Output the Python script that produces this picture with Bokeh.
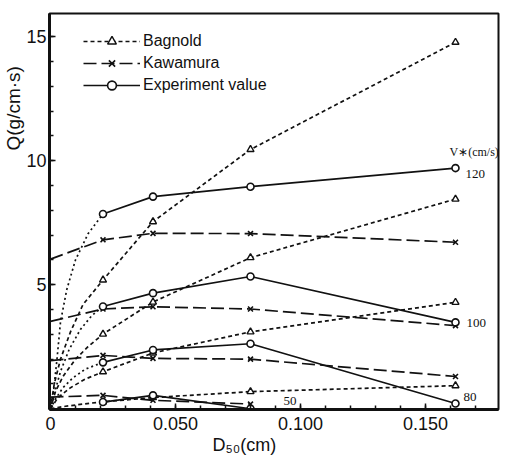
import math
from bokeh.plotting import figure
from bokeh.models import (Range1d, FixedTicker, CustomJSTickFormatter, Label,
                          Legend, LegendItem, Title)
from bokeh.embed import file_html
from bokeh.resources import INLINE

# ---------------- data ----------------
d50 = [0.021, 0.041, 0.080, 0.162]          # D50 (cm)

bagnold_120 = [5.19, 7.54, 10.45, 14.77]
bagnold_100 = [3.01, 4.30, 6.09, 8.45]
bagnold_80 = [1.49, 2.25, 3.10, 4.29]
bagnold_50 = [0.28, 0.45, 0.69, 0.93]

# Bagnold curves rising from the origin to the first point
bag120_lead_x = [0.0, 0.0015, 0.004, 0.008, 0.013]
bag120_lead_y = [0.0, 1.0, 2.0, 3.1, 4.2]
bag100_lead_x = [0.0, 0.002, 0.005, 0.010, 0.015]
bag100_lead_y = [0.0, 0.7, 1.3, 2.0, 2.5]
bag80_lead_x = [0.0, 0.003, 0.008, 0.014]
bag80_lead_y = [0.0, 0.45, 0.85, 1.2]
bag50_lead_x = [0.0, 0.006, 0.013]
bag50_lead_y = [0.0, 0.1, 0.19]

kawamura_d50 = [0.0, 0.021, 0.041, 0.080, 0.162]
kawamura_120 = [6.03, 6.81, 7.07, 7.06, 6.71]
kawamura_100 = [3.52, 4.02, 4.11, 4.02, 3.35]
kawamura_80 = [1.94, 2.15, 2.03, 2.00, 1.30]
kawamura_50_d50 = [0.0, 0.021, 0.041, 0.080]
kawamura_50 = [0.47, 0.54, 0.34, 0.19]

experiment_120 = [7.85, 8.55, 8.95, 9.70]
experiment_100 = [4.12, 4.66, 5.33, 3.48]
experiment_80 = [1.87, 2.37, 2.62, 0.21]
experiment_50_d50 = [0.021, 0.041, 0.080]
experiment_50 = [0.27, 0.54, 0.0]

# dotted curves from the origin to the first experiment point
exp120_lead_x = [0.0, 0.001, 0.0025, 0.004, 0.0065, 0.010, 0.015]
exp120_lead_y = [0.0, 0.5, 1.9, 3.5, 4.8, 6.0, 7.05]
exp100_lead_x = [0.0, 0.0015, 0.004, 0.0075, 0.012, 0.0165]
exp100_lead_y = [0.0, 0.6, 1.5, 2.4, 3.2, 3.75]
exp80_lead_x = [0.0, 0.002, 0.005, 0.009, 0.014]
exp80_lead_y = [0.0, 0.4, 0.85, 1.25, 1.6]

x_major = [0.0, 0.05, 0.10, 0.15]
x_minor = [i / 100 for i in range(18)]
y_major = [5, 10, 15]
y_minor = list(range(16))

series_labels = ["120", "100", "80", "50"]

# ---------------- figure ----------------
INK = "#111111"
SANS = "Liberation Sans"
SERIF = "Liberation Serif"

p = figure(width=510, height=455, output_backend="svg", toolbar_location=None,
           x_range=Range1d(-0.0004, 0.1792), y_range=Range1d(-0.03, 15.93),
           min_border_left=49, min_border_right=12, min_border_top=13,
           min_border_bottom=46)
p.grid.visible = False
p.background_fill_color = "white"
p.border_fill_color = "white"
p.outline_line_color = INK
p.outline_line_width = 2

for ax in (p.xaxis[0], p.yaxis[0]):
    ax.axis_line_width = 3
    ax.axis_line_color = INK
    ax.major_tick_in = 6
    ax.major_tick_out = 0
    ax.minor_tick_in = 4
    ax.minor_tick_out = 0
    ax.major_tick_line_color = INK
    ax.minor_tick_line_color = INK
    ax.major_tick_line_width = 1.5
    ax.minor_tick_line_width = 1.5
    ax.major_label_text_font = SANS
    ax.major_label_text_font_size = "18px"
    ax.major_label_text_color = INK

p.xaxis.ticker = FixedTicker(ticks=x_major, minor_ticks=x_minor)
p.yaxis.ticker = FixedTicker(ticks=y_major, minor_ticks=y_minor)
p.xaxis.formatter = CustomJSTickFormatter(
    code="return tick == 0 ? '0' : tick.toFixed(3);")
p.xaxis.major_label_standoff = 7
p.yaxis.major_label_standoff = 3

BAG_DASH = "4 3"
KAW_DASH = "13 5"
DOT = "2 3"
LW = 1.7


def tri(xs, ys):
    return p.scatter(xs, ys, marker="triangle", size=7, fill_color="white",
                     line_color=INK, line_width=1.4)


def cross(xs, ys):
    return p.scatter(xs, ys, marker="x", size=7, line_color=INK, line_width=1.6)


def circ(xs, ys):
    return p.scatter(xs, ys, marker="circle", size=7, fill_color="white",
                     line_color=INK, line_width=1.6)


# Bagnold
bag_sets = [(bag120_lead_x, bag120_lead_y, bagnold_120),
            (bag100_lead_x, bag100_lead_y, bagnold_100),
            (bag80_lead_x, bag80_lead_y, bagnold_80),
            (bag50_lead_x, bag50_lead_y, bagnold_50)]
bag_renderers = []
for lx, ly, vals in bag_sets:
    lr = p.line(lx + d50, ly + vals, line_color=INK, line_width=LW,
                line_dash=BAG_DASH)
    sr = tri(d50, vals)
    bag_renderers.append((lr, sr))

# Kawamura
kaw_sets = [(kawamura_d50, kawamura_120), (kawamura_d50, kawamura_100),
            (kawamura_d50, kawamura_80), (kawamura_50_d50, kawamura_50)]
kaw_renderers = []
for xs, vals in kaw_sets:
    lr = p.line(xs, vals, line_color=INK, line_width=LW, line_dash=KAW_DASH)
    sr = cross(xs[1:], vals[1:])
    kaw_renderers.append((lr, sr))

# Experiment
exp_leads = [(exp120_lead_x, exp120_lead_y, experiment_120),
             (exp100_lead_x, exp100_lead_y, experiment_100),
             (exp80_lead_x, exp80_lead_y, experiment_80)]
for lx, ly, vals in exp_leads:
    p.line(lx + [d50[0]], ly + [vals[0]], line_color=INK, line_width=LW,
           line_dash=DOT)
exp_renderers = []
for xs, vals in [(d50, experiment_120), (d50, experiment_100),
                 (d50, experiment_80), (experiment_50_d50, experiment_50)]:
    lr = p.line(xs, vals, line_color=INK, line_width=LW)
    sr = circ(xs, vals)
    exp_renderers.append((lr, sr))

legend = Legend(items=[
    LegendItem(label="Bagnold", renderers=list(bag_renderers[0])),
    LegendItem(label="Kawamura", renderers=list(kaw_renderers[0])),
    LegendItem(label="Experiment value", renderers=list(exp_renderers[0])),
], location=(34, 313))
legend.glyph_width = 57
legend.glyph_height = 22
legend.label_height = 22
legend.spacing = 0
legend.padding = 0
legend.margin = 0
legend.label_standoff = 3
legend.label_text_font = SANS
legend.label_text_font_size = "16px"
legend.label_text_color = INK
legend.border_line_alpha = 0
legend.background_fill_alpha = 0
p.add_layout(legend)

# series labels (V* values)
p.add_layout(Label(x=0.1596, y=10.33, text="V\u2217(cm/s)", text_font=SERIF,
                   text_font_size="12px", text_baseline="middle",
                   text_color=INK))
label_pos = [(0.1660, 9.48), (0.1664, 3.45), (0.1652, 0.46), (0.0932, 0.30)]
for txt, (lx, ly) in zip(series_labels, label_pos):
    p.add_layout(Label(x=lx, y=ly, text=txt, text_font=SERIF,
                       text_font_size="13px", text_baseline="middle",
                       text_color=INK))

# axis titles placed in the side panels
ytitle = Title(text="Q(g/cm\u00b7s)", align="left", offset=259, standoff=0,
               text_font=SANS, text_font_size="19px", text_font_style="normal",
               text_color=INK)
p.add_layout(ytitle, "left")
xtitle = Title(text="D\u2085\u2080(cm)", align="left", offset=163, standoff=0,
               text_font=SANS, text_font_size="18px", text_font_style="normal",
               text_color=INK)
p.add_layout(xtitle, "below")

open("out.html", "w").write(file_html(p, INLINE))
